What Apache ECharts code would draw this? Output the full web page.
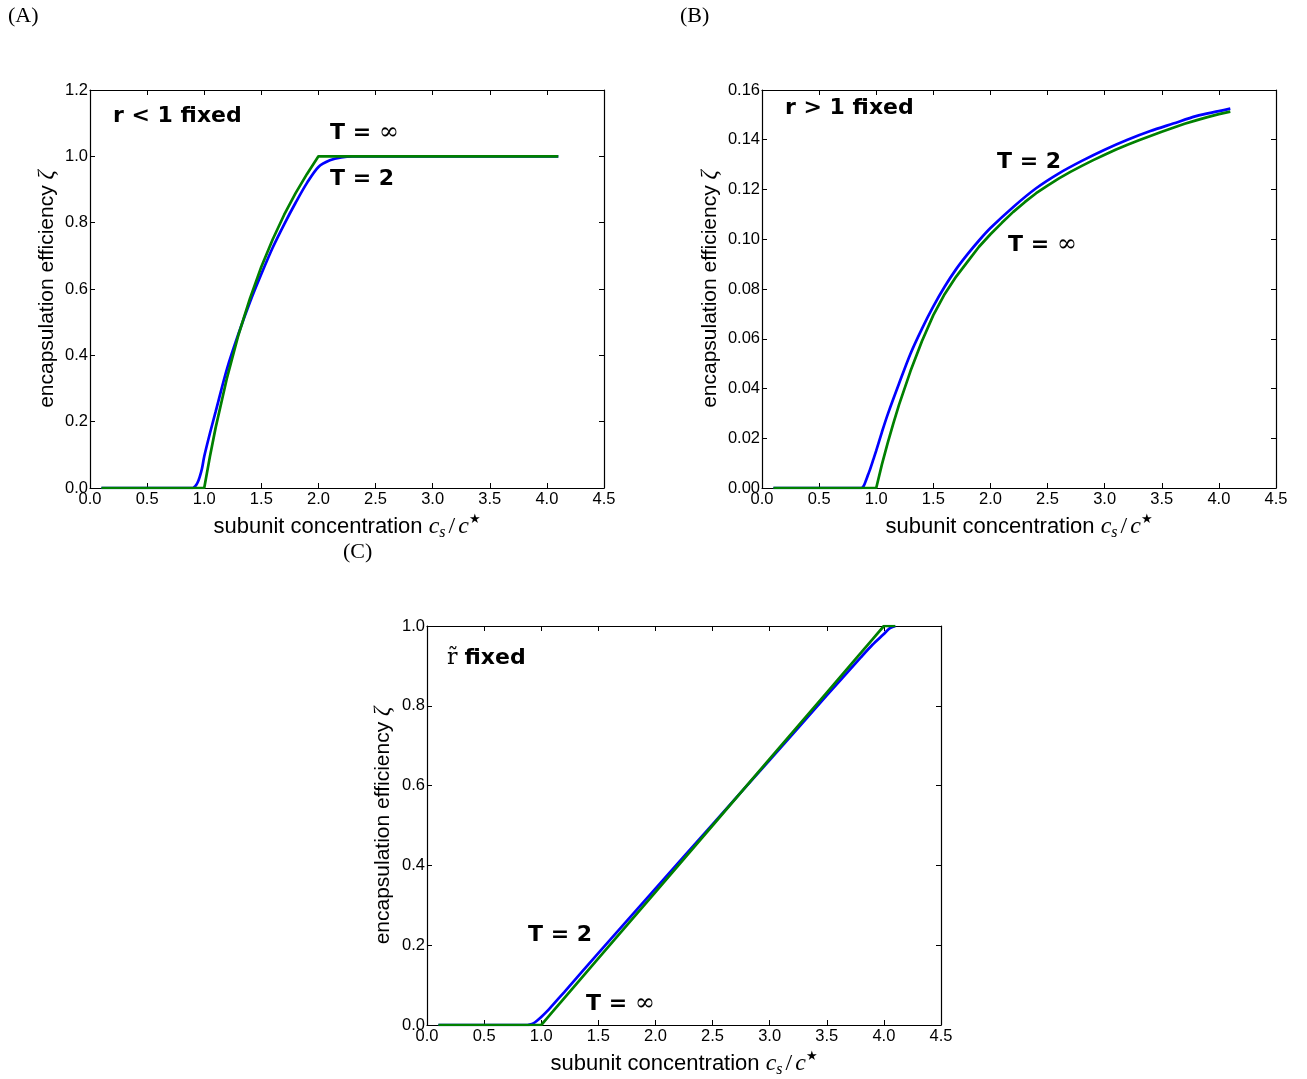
<!DOCTYPE html>
<html><head><meta charset="utf-8">
<script src="https://cdn.jsdelivr.net/npm/echarts@6/dist/echarts.min.js"></script>
<style>html,body{margin:0;padding:0;background:#fff}#c{width:1307px;height:1079px}</style>
</head><body><div id="c"></div>
<script>
// ---- data ----
const xA = [0.1, 0.5, 0.85, 0.9, 0.92, 0.94, 0.96, 0.98, 1.0, 1.05, 1.1, 1.2, 1.3, 1.4, 1.5, 1.6, 1.7, 1.8, 1.9, 2.0, 2.1, 2.2, 2.3, 2.5, 3.0, 3.5, 4.0, 4.1];
const yA_T2 = [0, 0, 0, 0, 0.005, 0.015, 0.033, 0.058, 0.095, 0.165, 0.23, 0.36, 0.465, 0.56, 0.645, 0.725, 0.795, 0.86, 0.92, 0.968, 0.988, 0.997, 1.0, 1.0, 1.0, 1.0, 1.0, 1.0];
const yA_Tinf = [0, 0, 0, 0, 0, 0, 0, 0, 0, 0.095, 0.182, 0.333, 0.462, 0.571, 0.667, 0.75, 0.824, 0.889, 0.947, 1.0, 1.0, 1.0, 1.0, 1.0, 1.0, 1.0, 1.0, 1.0];

const xB_T2 = [0.1, 0.5, 0.85, 0.87, 0.89, 0.91, 0.93, 0.95, 0.975, 1.0, 1.05, 1.1, 1.2, 1.3, 1.4, 1.5, 1.6, 1.7, 1.8, 1.9, 2.0, 2.2, 2.4, 2.6, 2.8, 3.0, 3.2, 3.4, 3.6, 3.8, 4.0, 4.1];
const yB_T2 = [0, 0, 0, 0, 0.0008, 0.003, 0.0055, 0.008, 0.0115, 0.015, 0.0225, 0.0295, 0.042, 0.054, 0.064, 0.073, 0.081, 0.088, 0.094, 0.0995, 0.1045, 0.113, 0.1205, 0.1265, 0.1315, 0.136, 0.14, 0.1435, 0.1465, 0.1495, 0.1515, 0.1525];
const xB_Tinf = [0.1, 0.5, 1.0, 1.05, 1.1, 1.15, 1.2, 1.3, 1.4, 1.5, 1.6, 1.7, 1.8, 1.9, 2.0, 2.1, 2.2, 2.3, 2.4, 2.5, 2.6, 2.7, 2.8, 2.9, 3.0, 3.1, 3.2, 3.3, 3.4, 3.5, 3.6, 3.7, 3.8, 3.9, 4.0, 4.1];
const yB_Tinf = [0, 0, 0, 0.0095, 0.018, 0.026, 0.0335, 0.047, 0.059, 0.0695, 0.078, 0.085, 0.091, 0.097, 0.102, 0.1066, 0.111, 0.1149, 0.1185, 0.1216, 0.1245, 0.1271, 0.1295, 0.1318, 0.134, 0.1361, 0.138, 0.1398, 0.1415, 0.1432, 0.1448, 0.1464, 0.1478, 0.1491, 0.1503, 0.1513];

const xC = [0.1, 0.5, 0.88, 0.9, 0.93, 0.96, 1.0, 1.05, 1.1, 1.2, 1.5, 2.0, 2.5, 3.0, 3.5, 3.8, 3.9, 4.0, 4.05, 4.1];
const yC_T2 = [0, 0, 0, 0.001, 0.004, 0.01, 0.02, 0.034, 0.05, 0.082, 0.18, 0.342, 0.503, 0.664, 0.826, 0.922, 0.953, 0.98, 0.994, 1.0];
const yC_Tinf = [0, 0, 0, 0, 0, 0, 0, 0.0167, 0.0333, 0.0667, 0.1667, 0.3333, 0.5, 0.6667, 0.8333, 0.9333, 0.9667, 1.0, 1.0, 1.0];

const xTicks = {min: 0, max: 4.5, interval: 0.5};
const yTicksA = {min: 0, max: 1.2, interval: 0.2, digits: 1};
const yTicksB = {min: 0, max: 0.16, interval: 0.02, digits: 2};
const yTicksC = {min: 0, max: 1.0, interval: 0.2, digits: 1};

const pairs = (xs, ys) => xs.map((x, i) => [x, ys[i]]);

const grids = [
  {left: 90, top: 90, width: 514, height: 398},
  {left: 762, top: 90, width: 514, height: 398},
  {left: 427, top: 626, width: 514, height: 399}
];

const tickFont = {color: '#000', fontSize: 16.5, fontFamily: 'Liberation Sans'};
function richFor(size) {
  return {
    i: {fontFamily: 'Liberation Serif', fontStyle: 'italic', fontSize: size + 2, color: '#000', lineHeight: 28},
    r: {fontFamily: 'Liberation Serif', fontSize: size + 2, color: '#000', lineHeight: 28, padding: [0, 3, 0, 3]},
    sub: {fontFamily: 'Liberation Serif', fontStyle: 'italic', fontSize: 16, color: '#000', lineHeight: 15, verticalAlign: 'bottom'},
    sup: {fontFamily: 'DejaVu Sans', fontSize: 13, color: '#000', lineHeight: 13, verticalAlign: 'top'},
    z: {fontFamily: 'Liberation Serif', fontStyle: 'italic', fontSize: size + 2, color: '#000', lineHeight: 28}
  };
}
const xNameStyle = {color: '#000', fontSize: 22, fontFamily: 'Liberation Sans', lineHeight: 28, rich: richFor(22)};
const yNameStyle = {color: '#000', fontSize: 21, fontFamily: 'Liberation Sans', lineHeight: 28, rich: richFor(21)};

const xAxes = [], yAxes = [];
function addX(g, main) {
  xAxes.push({
    type: 'value', gridIndex: g, position: main ? 'bottom' : 'top',
    min: xTicks.min, max: xTicks.max, interval: xTicks.interval,
    axisLine: {show: true, onZero: false, lineStyle: {color: '#000', width: 1.2}},
    axisTick: {show: true, inside: true, length: 5, lineStyle: {color: '#000'}},
    axisLabel: {show: main, margin: 3, formatter: v => v.toFixed(1), ...tickFont},
    splitLine: {show: false},
    name: main ? 'subunit concentration {i|c}{sub|s}{r|/}{i|c}{sup|★}' : '',
    nameLocation: 'middle', nameGap: 25, nameTextStyle: xNameStyle
  });
}
function addY(g, main, t, gap) {
  yAxes.push({
    type: 'value', gridIndex: g, position: main ? 'left' : 'right',
    min: t.min, max: t.max, interval: t.interval,
    axisLine: {show: true, onZero: false, lineStyle: {color: '#000', width: 1.2}},
    axisTick: {show: true, inside: true, length: 5, lineStyle: {color: '#000'}},
    axisLabel: {show: main, margin: 2, formatter: v => v.toFixed(t.digits), ...tickFont},
    splitLine: {show: false},
    name: main ? 'encapsulation efficiency {z|ζ}' : '',
    nameLocation: 'middle', nameGap: gap, nameTextStyle: yNameStyle
  });
}
addX(0, true); addX(0, false); addX(1, true); addX(1, false); addX(2, true); addX(2, false);
addY(0, true, yTicksA, 29); addY(0, false, yTicksA, 0);
addY(1, true, yTicksB, 37); addY(1, false, yTicksB, 0);
addY(2, true, yTicksC, 30); addY(2, false, yTicksC, 0);

function line(xi, yi, data, color, smooth) {
  return {type: 'line', xAxisIndex: xi, yAxisIndex: yi, data, showSymbol: false, symbol: 'none',
    smooth: smooth, lineStyle: {color, width: 2.7}, clip: true, z: color === '#008000' ? 3 : 2};
}
const series = [
  line(0, 0, pairs(xA, yA_T2), '#0000ff', 0.3),
  line(0, 0, pairs(xA, yA_Tinf), '#008000', false),
  line(2, 2, pairs(xB_T2, yB_T2), '#0000ff', 0.3),
  line(2, 2, pairs(xB_Tinf, yB_Tinf), '#008000', false),
  line(4, 4, pairs(xC, yC_T2), '#0000ff', 0.3),
  line(4, 4, pairs(xC, yC_Tinf), '#008000', false)
];

const annRich = {
  b: {fontFamily: 'DejaVu Sans', fontWeight: 'bold', fontSize: 22, fill: '#000'},
  inf: {fontFamily: 'DejaVu Serif', fontSize: 24, fill: '#000'},
  rt: {fontFamily: 'DejaVu Serif', fontSize: 22, fill: '#000'}
};
function ann(x, y, text) {
  return {type: 'text', x, y, z: 10, style: {text, rich: annRich, fill: '#000', verticalAlign: 'middle', align: 'left'}};
}
function panel(x, y, text) {
  return {type: 'text', x, y, z: 10, style: {text, fill: '#000', font: '22px "Liberation Serif"', verticalAlign: 'middle', align: 'left'}};
}
const graphic = [
  panel(8, 16, '(A)'), panel(680, 16, '(B)'), panel(343, 552, '(C)'),
  ann(113, 116, '{b|r < 1 fixed}'),
  ann(330, 133, '{b|T = }{inf|∞}'),
  ann(330, 179, '{b|T = 2}'),
  ann(785, 108, '{b|r > 1 fixed}'),
  ann(997, 162, '{b|T = 2}'),
  ann(1008, 245, '{b|T = }{inf|∞}'),
  ann(447, 658, '{rt|r̃ }{b|fixed}'),
  ann(528, 935, '{b|T = 2}'),
  ann(586, 1004, '{b|T = }{inf|∞}')
];

const chart = echarts.init(document.getElementById('c'), null, {renderer: 'canvas'});
chart.setOption({
  backgroundColor: '#fff', animation: false,
  grid: grids, xAxis: xAxes, yAxis: yAxes, series, graphic
});
</script></body></html>
